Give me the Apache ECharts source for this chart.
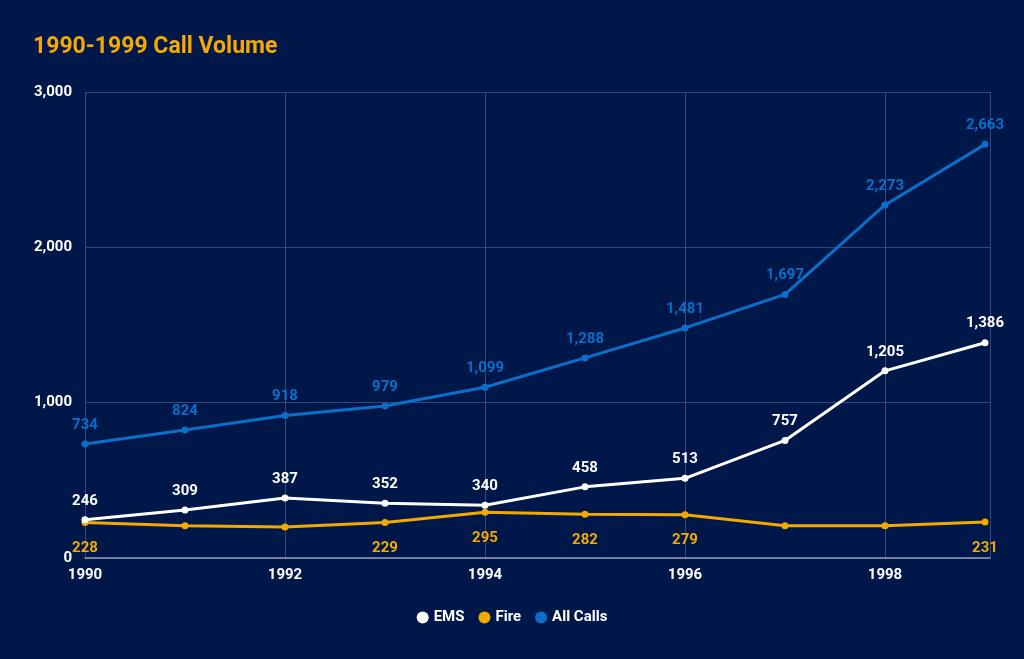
<!DOCTYPE html>
<html><head><meta charset="utf-8">
<script src="https://cdn.jsdelivr.net/npm/echarts@6/dist/echarts.min.js"></script>
<style>html,body{margin:0;padding:0;background:#00174a;}#c{width:1024px;height:659px;}</style>
</head><body><div id="c"></div>
<script>
var years = [1990,1991,1992,1993,1994,1995,1996,1997,1998,1999];
var ems = [246,309,387,352,340,458,513,757,1205,1386];
var fire = [228,208,200,229,295,282,279,208,207,231];
var allCalls = [734,824,918,979,1099,1288,1481,1697,2273,2663];
var fireHiddenLabels = [1991,1992,1997,1998];
var seriesNames = ['EMS','Fire','All Calls'];
var title = '1990-1999 Call Volume';

function pairs(vals){ return years.map(function(y,i){ return [y, vals[i]]; }); }
var fmt = function(v){ return v.toLocaleString('en-US'); };
var font = 'Roboto, sans-serif';
var chart = echarts.init(document.getElementById('c'));
function mk(name, vals, color, pos, dist, hidden){
  return {
    name: name, type: 'line', data: pairs(vals),
    symbol: 'circle', symbolSize: 7,
    lineStyle: {width: 3, color: color},
    itemStyle: {color: color},
    label: {show: true, position: pos, distance: dist, color: color, fontFamily: font, fontWeight: 'bold', fontSize: 15,
      formatter: function(p){ if (hidden && hidden.indexOf(p.value[0]) >= 0) return ''; return fmt(p.value[1]); }},
    emphasis: {disabled: true},
    z: name === 'Fire' ? 2 : 3
  };
}
chart.setOption({
  backgroundColor: '#00174a',
  animation: false,
  title: {text: title, left: 28, top: 31, textStyle: {color: '#f5a800', fontFamily: font, fontWeight: 'bold', fontSize: 23}},
  legend: {bottom: 29, left: 'center', icon: 'circle', itemWidth: 12, itemHeight: 12, itemGap: 14,
    textStyle: {color: '#ffffff', fontFamily: font, fontWeight: 'bold', fontSize: 15}, data: seriesNames},
  grid: {left: 85, right: 34, top: 92, bottom: 101},
  xAxis: {type: 'value', min: 1990, max: 1999.05, interval: 2,
    axisLine: {show: true, lineStyle: {color: '#8f9bb8', width: 1.5}},
    axisTick: {show: false},
    splitLine: {show: true, lineStyle: {color: '#34467a'}},
    axisLabel: {color: '#ffffff', fontFamily: font, fontWeight: 'bold', fontSize: 15, margin: 10, showMaxLabel: false,
      formatter: function(v){ return String(v); }}},
  yAxis: {type: 'value', min: 0, max: 3000, interval: 1000,
    axisLine: {show: false}, axisTick: {show: false},
    splitLine: {show: true, lineStyle: {color: '#34467a'}},
    axisLabel: {color: '#ffffff', fontFamily: font, fontWeight: 'bold', fontSize: 15, margin: 13, formatter: fmt}},
  series: [
    mk('EMS', ems, '#ffffff', 'top', 8),
    mk('Fire', fire, '#f2a900', 'bottom', 15, fireHiddenLabels),
    mk('All Calls', allCalls, '#0a6fc8', 'top', 8)
  ]
});
</script></body></html>
